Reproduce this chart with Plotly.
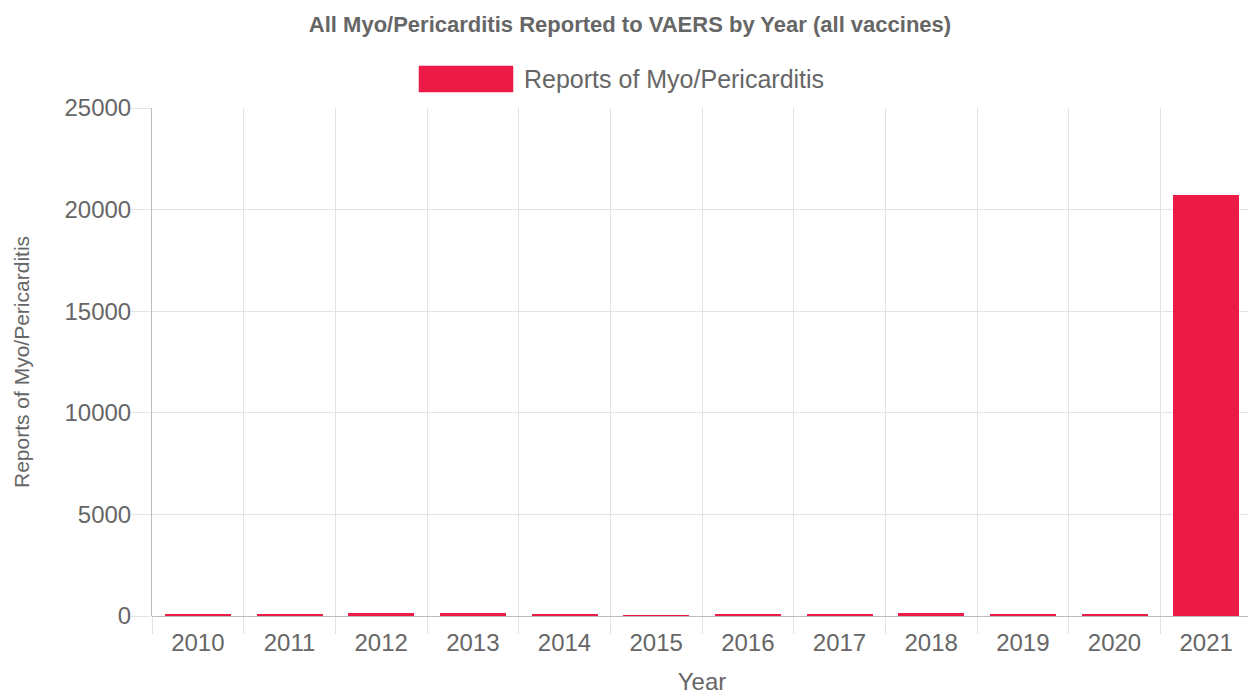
import plotly.graph_objects as go

years = ["2010", "2011", "2012", "2013", "2014", "2015", "2016", "2017", "2018", "2019", "2020", "2021"]
reports = [60, 60, 130, 130, 60, 25, 55, 55, 130, 60, 60, 20700]
y_ticks = [0, 5000, 10000, 15000, 20000, 25000]

bar_color = "#EC1A46"
text_color = "#666666"
grid_color = "#E3E3E3"
axis_color = "#BBBBBB"
font_family = "Liberation Sans, Arial, sans-serif"

# page body has an 8px margin; plot area target: x 152-1252, y 108-616
L, R, T, B = 152 - 8, 12, 108 - 8, 87
PW, PH = 1100, 508

fig = go.Figure()
fig.add_trace(go.Bar(
    x=years, y=reports, name="Reports of Myo/Pericarditis",
    marker=dict(color=bar_color, line=dict(width=0)),
    width=0.72, showlegend=False,
))

fig.update_layout(
    width=1256, height=695,
    margin=dict(l=L, r=R, t=T, b=B),
    paper_bgcolor="white", plot_bgcolor="white",
    font=dict(family=font_family, color=text_color, size=20),
    title=dict(text="<b>All Myo/Pericarditis Reported to VAERS by Year (all vaccines)</b>",
               x=(630 - 8) / 1256, xanchor="center", y=1 - 16 / 695, yanchor="middle",
               font=dict(size=22, color=text_color, family=font_family)),
    bargap=0,
)

fig.update_xaxes(
    type="category",
    tickson="boundaries", ticks="outside", ticklen=17, tickcolor=grid_color, tickwidth=1,
    showgrid=True, gridcolor=grid_color, gridwidth=1,
    showline=False, zeroline=False,
    tickfont=dict(size=24, color=text_color),
    ticklabelstandoff=10,
    title=dict(text="Year", font=dict(size=24, color=text_color), standoff=18),
)
fig.update_yaxes(
    range=[0, 25000], tickvals=y_ticks, ticktext=[str(v) for v in y_ticks],
    ticks="outside", ticklen=20, tickcolor=grid_color, tickwidth=1,
    showgrid=True, gridcolor=grid_color, gridwidth=1,
    showline=True, linecolor=axis_color, linewidth=1,
    zeroline=True, zerolinecolor=axis_color, zerolinewidth=1,
    tickfont=dict(size=24, color=text_color),
    ticklabelstandoff=-5,
    title=dict(text="Reports of Myo/Pericarditis", font=dict(size=21, color=text_color), standoff=29),
)

# Legend drawn as a box + label, Chart.js style
fig.add_shape(type="rect", xref="paper", yref="paper",
              x0=(419 - 152) / PW, x1=(513 - 152) / PW,
              y0=(616 - 92) / PH, y1=(616 - 66) / PH,
              fillcolor=bar_color, line=dict(color="rgba(236,26,70,0.5)", width=1))
fig.add_annotation(xref="paper", yref="paper", x=(522 - 152) / PW, y=(616 - 79) / PH,
                   xanchor="left", yanchor="middle", showarrow=False,
                   text="Reports of Myo/Pericarditis",
                   font=dict(size=25, color=text_color, family=font_family))

fig.write_html("out.html")
